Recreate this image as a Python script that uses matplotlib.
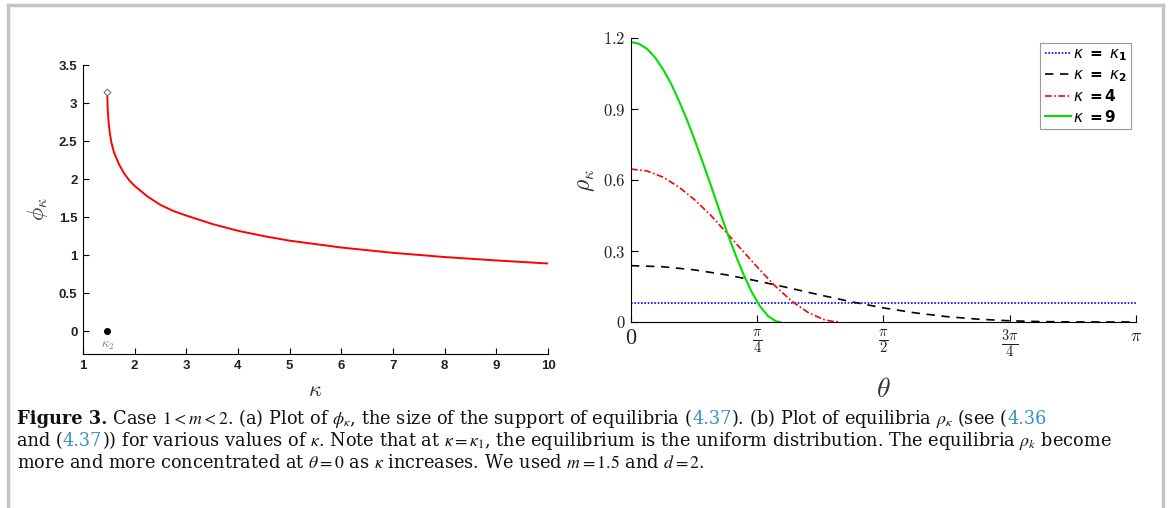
import matplotlib
matplotlib.use("Agg")
import matplotlib.pyplot as plt
from matplotlib.lines import Line2D

# (a) phi_kappa against kappa
kappa = [1.47, 1.475, 1.48, 1.49, 1.5, 1.52, 1.55, 1.6, 1.7, 1.8, 1.9, 2.0,
         2.25, 2.5, 2.75, 3.0, 3.5, 4.0, 4.5, 5.0, 5.5, 6.0, 7.0, 8.0, 9.0, 10.0]
phi = [3.14, 2.98, 2.90, 2.80, 2.72, 2.60, 2.48, 2.35, 2.19, 2.07, 1.98, 1.91,
       1.77, 1.66, 1.58, 1.52, 1.41, 1.32, 1.25, 1.19, 1.145, 1.10, 1.03, 0.975, 0.93, 0.89]
kappa2 = 1.47

# (b) equilibria rho_kappa against theta
theta_k1 = [0.0, 3.1416]
rho_k1 = [0.0796, 0.0796]

theta_k2 = [0.0, 0.196, 0.393, 0.589, 0.785, 0.982, 1.178, 1.374, 1.571,
            1.767, 1.963, 2.160, 2.356, 2.553, 2.749, 2.945, 3.1416]
rho_k2 = [0.238, 0.2336, 0.2204, 0.1997, 0.1735, 0.1441, 0.1138, 0.0850, 0.0595,
          0.0386, 0.0227, 0.0118, 0.0051, 0.0017, 0.0003, 0.0, 0.0]

theta_k4 = [0.0, 0.1, 0.2, 0.3, 0.4, 0.5, 0.6, 0.7, 0.8, 0.9, 1.0, 1.1, 1.2, 1.25, 1.296]
rho_k4 = [0.646, 0.638, 0.612, 0.569, 0.514, 0.448, 0.373, 0.297, 0.221, 0.150,
          0.088, 0.041, 0.010, 0.003, 0.0]

theta_k9 = [0.0, 0.05, 0.1, 0.15, 0.2, 0.25, 0.3, 0.35, 0.4, 0.45, 0.5, 0.55, 0.6,
            0.65, 0.7, 0.75, 0.8, 0.85, 0.9, 0.928]
rho_k9 = [1.183, 1.1755, 1.154, 1.1174, 1.067, 1.0062, 0.932, 0.8514, 0.762, 0.6674,
          0.571, 0.4714, 0.374, 0.2842, 0.201, 0.1282, 0.0691, 0.0266, 0.0035, 0.0]

theta_ticks = [0, 0.7854, 1.5708, 2.3562, 3.1416]
theta_labels = [r"$\mathbf{0}$", r"$\frac{\pi}{4}$", r"$\frac{\pi}{2}$",
                r"$\frac{\mathbf{3}\pi}{\mathbf{4}}$", r"$\pi$"]
rho_ticks = [0, 0.3, 0.6, 0.9, 1.2]
rho_labels = [r"$\mathbf{0}$", r"$\mathbf{0.3}$", r"$\mathbf{0.6}$",
              r"$\mathbf{0.9}$", r"$\mathbf{1.2}$"]

W, H = 1168, 508
fig = plt.figure(figsize=(W / 100, H / 100), dpi=100)
plt.rcParams["font.family"] = ["Liberation Sans", "DejaVu Sans"]

# frame around the figure
for xs, ys in [([8, 8], [0, 503]), ([8, 1163], [503, 503]), ([1163, 1163], [0, 503])]:
    fig.add_artist(Line2D([x / W for x in xs], [y / H for y in ys],
                          color="#c4c4c4", lw=2.5))

# ---- left panel
ax1 = fig.add_axes([83 / W, 1 - 354 / H, 465 / W, 289 / H])
ax1.plot(kappa, phi, color="red", lw=1.4)
ax1.plot([kappa2], [3.14], marker="D", ms=3.5, mfc="white", mec="#777777", mew=0.8)
ax1.plot([kappa2], [0], "o", color="black", ms=4)
ax1.text(kappa2, -0.12, r"$\kappa_2$", color="#777777", fontsize=9, ha="center",
         va="top", math_fontfamily="cm")
ax1.set_xlim(1, 10)
ax1.set_ylim(-0.3, 3.5)
ax1.set_xticks(range(1, 11))
ax1.set_yticks([0, 0.5, 1, 1.5, 2, 2.5, 3, 3.5])
ax1.set_yticklabels(["0", "0.5", "1", "1.5", "2", "2.5", "3", "3.5"])
ax1.tick_params(direction="in", length=4, width=0.8, labelsize=9.5, pad=4)
for lab in ax1.get_xticklabels() + ax1.get_yticklabels():
    lab.set_fontweight("bold")
    lab.set_color("#222222")
ax1.spines["top"].set_visible(False)
ax1.spines["right"].set_visible(False)
ax1.set_xlabel(r"$\kappa$", fontsize=16, math_fontfamily="cm", color="#333333", labelpad=6)
ax1.set_ylabel(r"$\phi_\kappa$", fontsize=16, math_fontfamily="cm", color="#333333", labelpad=6)

# ---- right panel
ax2 = fig.add_axes([631 / W, 1 - 322 / H, 505 / W, 284 / H])
ax2.plot(theta_k1, rho_k1, color="blue", lw=1.2, ls=(0, (1, 1)), label=r"$\kappa$ $\mathbf{=}$ $\kappa_\mathbf{1}$")
ax2.plot(theta_k2, rho_k2, color="black", lw=1.2, ls=(0, (5, 4)), label=r"$\kappa$ $\mathbf{=}$ $\kappa_\mathbf{2}$")
ax2.plot(theta_k4, rho_k4, color="red", lw=1.2, ls=(0, (4, 1.5, 1, 1.5)), label=r"$\kappa$ $\mathbf{= 4}$")
ax2.plot(theta_k9, rho_k9, color="#00e000", lw=1.5, label=r"$\kappa$ $\mathbf{= 9}$")
ax2.set_xlim(0, 3.1416)
ax2.set_ylim(0, 1.2)
ax2.set_xticks(theta_ticks)
ax2.set_xticklabels(theta_labels)
ax2.set_yticks(rho_ticks)
ax2.set_yticklabels(rho_labels)
ax2.tick_params(direction="in", length=5, width=0.8, labelsize=12, pad=4)
for lab in ax2.get_xticklabels() + ax2.get_yticklabels():
    lab.set_math_fontfamily("cm")
    lab.set_color("#222222")
xl = ax2.get_xticklabels()
xl[0].set_fontsize(16)
for lab in xl[1:4]:
    lab.set_fontsize(15)
xl[4].set_fontsize(13)
ax2.spines["top"].set_visible(False)
ax2.spines["right"].set_visible(False)
ax2.set_xlabel(r"$\theta$", fontsize=20, math_fontfamily="cm", color="#333333", labelpad=12)
ax2.set_ylabel(r"$\rho_\kappa$", fontsize=17, math_fontfamily="cm", color="#333333", labelpad=4)
leg = ax2.legend(loc="upper right", bbox_to_anchor=(0.99, 0.982), borderaxespad=0,
                 fontsize=11, handlelength=1.7, handletextpad=0.1, labelspacing=0.3,
                 borderpad=0.3, fancybox=False, edgecolor="#999999", framealpha=1)
leg.get_frame().set_linewidth(0.8)

# ---- caption
renderer = fig.canvas.get_renderer()
blue = "#3b8ec9"


def caption_line(segments, y_px, x_px=17):
    x = x_px
    for txt, col, weight in segments:
        t = fig.text(x / W, 1 - y_px / H, txt, color=col, fontweight=weight,
                     fontsize=12.8, family="DejaVu Serif", va="baseline",
                     math_fontfamily="stix")
        x += t.get_window_extent(renderer).width


k = "#111111"
caption_line([("Figure 3.", k, "bold"),
              (r" Case $1 < m < 2$. (a) Plot of $\phi_\kappa$, the size of the support of equilibria (", k, "normal"),
              ("4.37", blue, "normal"),
              (r"). (b) Plot of equilibria $\rho_\kappa$ (see (", k, "normal"),
              ("4.36", blue, "normal")], 424)
caption_line([("and (", k, "normal"), ("4.37", blue, "normal"),
              (r")) for various values of $\kappa$. Note that at $\kappa = \kappa_1$, the equilibrium is the uniform distribution. The equilibria $\rho_k$ become", k, "normal")], 446)
caption_line([(r"more and more concentrated at $\theta = 0$ as $\kappa$ increases. We used $m = 1.5$ and $d = 2$.", k, "normal")], 468)

fig.savefig("out.png", dpi=100)
